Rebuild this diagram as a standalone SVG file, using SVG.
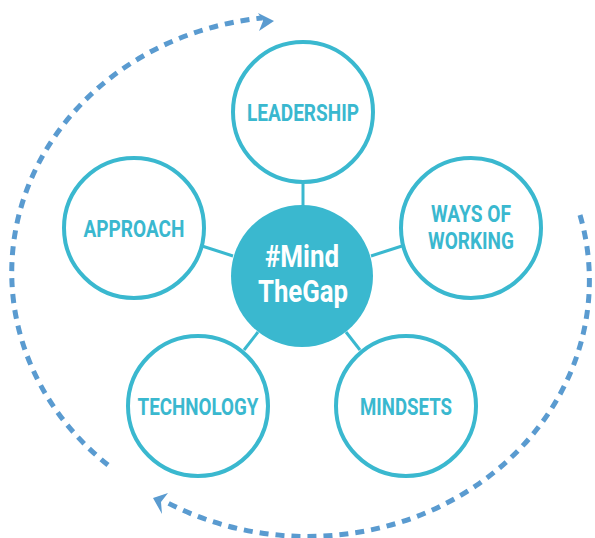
<svg xmlns="http://www.w3.org/2000/svg" width="595" height="538" viewBox="0 0 595 538">
<style>
.ring{fill:#fff;stroke:#3ab8cf;stroke-width:4}
.lbl{fill:#3ab8cf;font-family:Roboto,"Liberation Sans",sans-serif;font-weight:bold;font-size:23px;text-anchor:middle}
.hub{fill:#fff;font-family:Roboto,"Liberation Sans",sans-serif;font-weight:bold;font-size:31px;text-anchor:middle}
.cn{stroke:#3ab8cf;stroke-width:3}
.cyc{fill:none;stroke:#5a9bd0;stroke-width:5;stroke-dasharray:9 7}
.ah{fill:#5a9bd0}
</style>
<g id="cycle">
<path class="cyc" d="M 108 465 A 282 256 0 0 1 262 18"/>
<path class="cyc" d="M 580 215 A 282 256 0 0 1 166 502"/>
<polygon class="ah" points="258,13 274,21 259,31 263,21"/>
<polygon class="ah" points="168,493 153,498 162,514 161,502"/>
</g>
<g id="connectors">
<line class="cn" x1="303" y1="182" x2="303" y2="206"/>
<line class="cn" x1="202" y1="246" x2="233" y2="256"/>
<line class="cn" x1="402" y1="246" x2="371" y2="256"/>
<line class="cn" x1="244" y1="350" x2="258" y2="332"/>
<line class="cn" x1="360" y1="350" x2="346" y2="332"/>
</g>
<g id="leadership"><circle class="ring" cx="303" cy="112" r="70"/><text class="lbl" x="303" y="121" textLength="112" lengthAdjust="spacingAndGlyphs">LEADERSHIP</text></g>
<g id="approach"><circle class="ring" cx="134" cy="228" r="70"/><text class="lbl" x="134" y="237" textLength="101" lengthAdjust="spacingAndGlyphs">APPROACH</text></g>
<g id="ways"><circle class="ring" cx="471" cy="228" r="70"/><text class="lbl" x="471" y="222" textLength="80" lengthAdjust="spacingAndGlyphs">WAYS OF</text><text class="lbl" x="471" y="249" textLength="86" lengthAdjust="spacingAndGlyphs">WORKING</text></g>
<g id="technology"><circle class="ring" cx="198" cy="406" r="70"/><text class="lbl" x="198" y="415" textLength="121" lengthAdjust="spacingAndGlyphs">TECHNOLOGY</text></g>
<g id="mindsets"><circle class="ring" cx="406" cy="406" r="70"/><text class="lbl" x="406" y="415" textLength="92" lengthAdjust="spacingAndGlyphs">MINDSETS</text></g>
<g id="center"><circle cx="302" cy="276" r="71" fill="#3ab8cf"/><text class="hub" x="302" y="267" textLength="74" lengthAdjust="spacingAndGlyphs">#Mind</text><text class="hub" x="303" y="302" textLength="90" lengthAdjust="spacingAndGlyphs">TheGap</text></g>
</svg>
